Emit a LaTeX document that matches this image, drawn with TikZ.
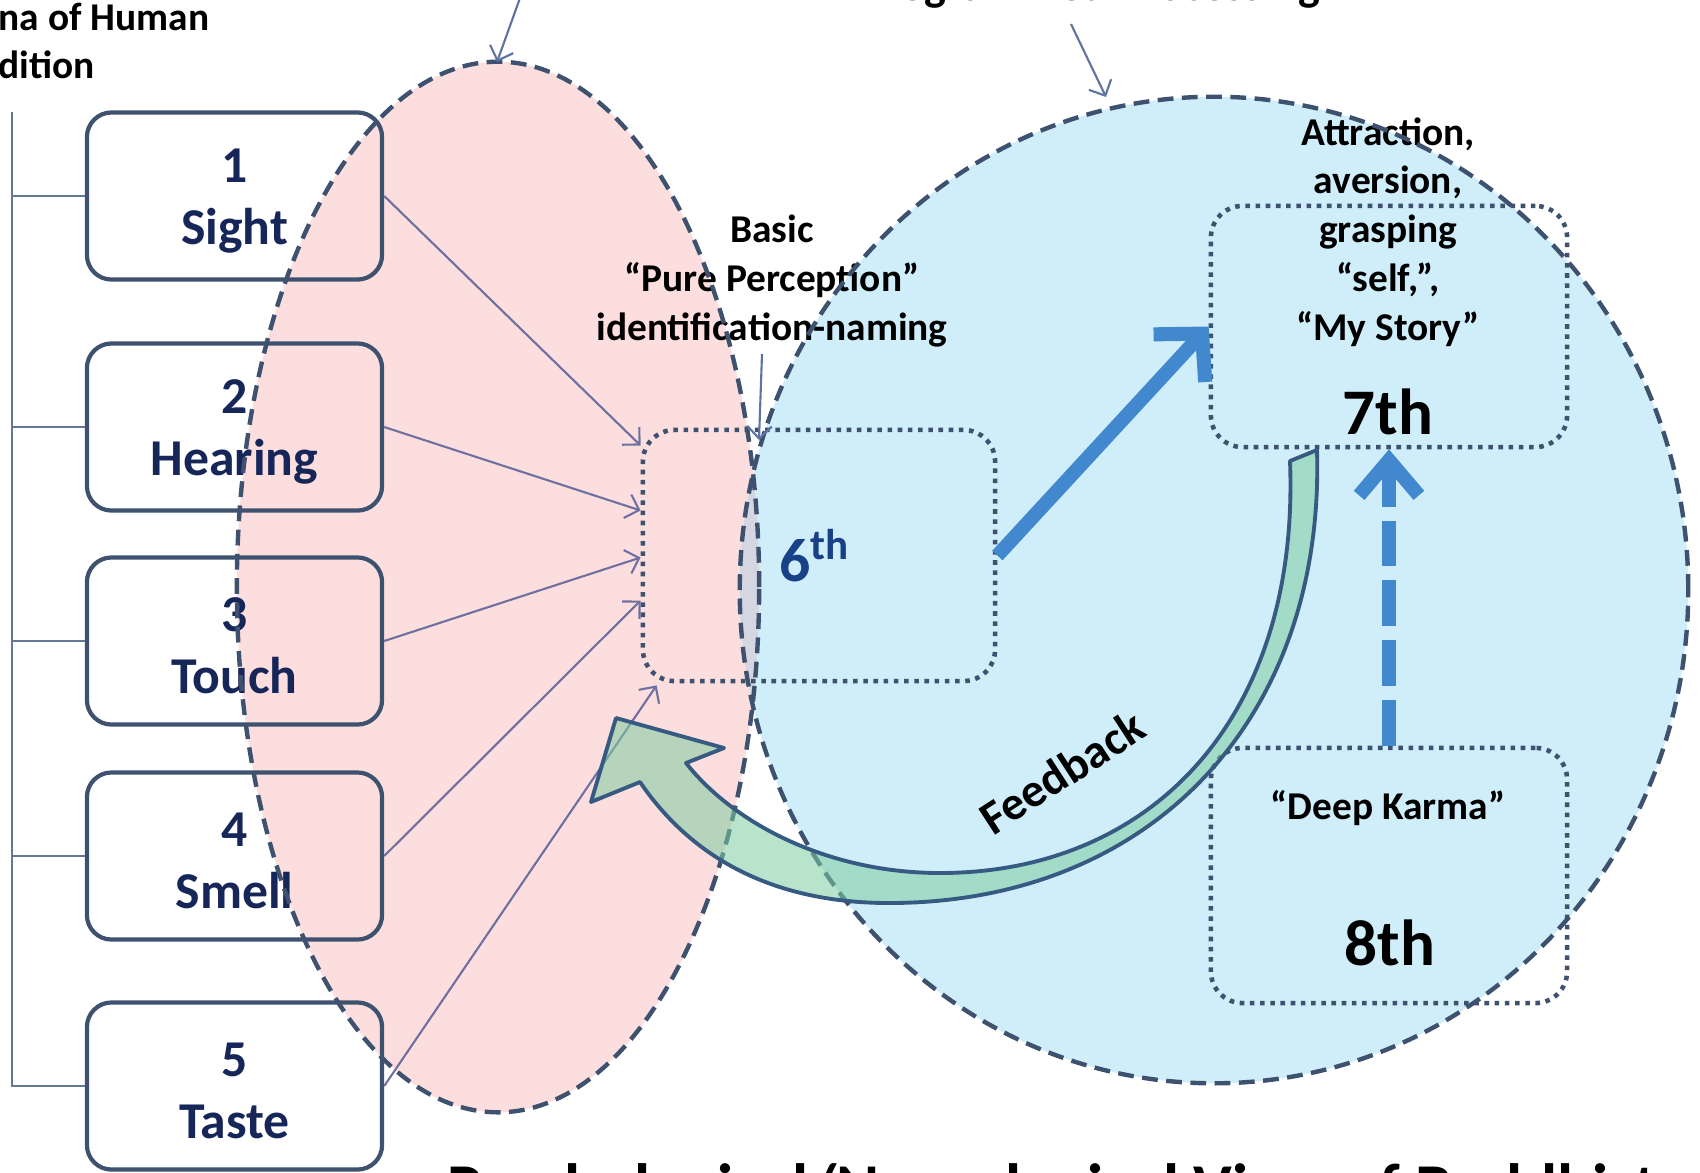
\documentclass[tikz,border=0pt]{standalone}
\usepackage{fontspec}
\setmainfont{Carlito}
\usetikzlibrary{arrows.meta,calc}

\definecolor{pinkfill}{RGB}{252,222,222}
\definecolor{bluefill}{RGB}{208,237,250}
\definecolor{lensfill}{RGB}{212,214,226}
\definecolor{outline}{RGB}{62,82,112}
\definecolor{navytext}{RGB}{22,38,88}
\definecolor{sixblue}{RGB}{25,65,135}
\definecolor{pointer}{RGB}{112,112,160}
\definecolor{toppointer}{RGB}{95,115,160}
\definecolor{bigarrow}{RGB}{66,136,206}
\definecolor{fbgreen}{RGB}{125,205,160}
\definecolor{fbedge}{RGB}{55,90,130}
\definecolor{bracket}{RGB}{100,120,150}

\begin{document}
\begin{tikzpicture}[x=0.01cm,y=-0.01cm,
  sense/.style={draw=outline, line width=1.2pt, rounded corners=7pt,
    minimum width=2.95cm, minimum height=1.67cm, inner sep=0pt},
  sensetext/.style={align=center, text=navytext, inner sep=0pt,
    font=\fontsize{14.7}{17.6}\selectfont\bfseries},
  zone/.style={draw=outline, line width=1.3pt, dash pattern=on 1.3pt off 1.6pt,
    rounded corners=9pt, inner sep=0pt},
  caption/.style={align=center, inner sep=0pt,
    font=\fontsize{11.2}{14}\selectfont\bfseries},
  ordinal/.style={inner sep=0pt, font=\fontsize{18.5}{22}\selectfont\bfseries},
  region/.style={draw=outline, line width=1.25pt, dash pattern=on 4.5pt off 2.4pt},
  thinptr/.style={draw=pointer, line width=0.6pt, -{Straight Barb[length=3.5pt,width=7pt]}},
  topptr/.style={draw=toppointer, line width=0.6pt, -{Straight Barb[length=3.5pt,width=7pt]}},
  bigptr/.style={draw=bigarrow, line width=4pt, -{Straight Barb[length=9.5pt,width=20pt]}},
]
\useasboundingbox (0,0) rectangle (1700,1172);
\clip (0,0) rectangle (1700,1172);

% the two regions and their overlap
\fill[pinkfill] (498,587) ellipse [x radius=2.61cm, y radius=5.25cm];
\fill[bluefill] (1214,590) ellipse [x radius=4.74cm, y radius=4.93cm];
\begin{scope}
  \clip (498,587) ellipse [x radius=2.61cm, y radius=5.25cm];
  \fill[lensfill] (1214,590) ellipse [x radius=4.74cm, y radius=4.93cm];
\end{scope}

% headings cut by the frame
\node[anchor=base west, inner sep=0pt, font=\fontsize{11.2}{14}\selectfont\bfseries] (headA) at (-2,30) {na of Human};
\node[anchor=base west, inner sep=0pt, font=\fontsize{11.2}{14}\selectfont\bfseries] (headB) at (-2,78) {dition};
\node[anchor=base, inner sep=0pt, font=\fontsize{13.1}{16}\selectfont\bfseries] (headC) at (1090,0) {Programmed Processing};
\node[anchor=base west, inner sep=0pt, font=\fontsize{18.6}{22}\selectfont\bfseries] (title) at (447,1209) {Psychological/Neurological View of Buddhist};

% five senses
\node[sense] (s1) at (234.5,196) {};
\node[sense] (s2) at (234.5,427) {};
\node[sense] (s3) at (234.5,641) {};
\node[sense] (s4) at (234.5,856) {};
\node[sense] (s5) at (234.5,1086) {};
\node[sensetext] (t1) at ($(s1)+(0,5)$) {1\\Sight};
\node[sensetext] (t2) at ($(s2)+(0,5)$) {2\\Hearing};
\node[sensetext] (t3) at ($(s3)+(0,5)$) {3\\Touch};
\node[sensetext] (t4) at ($(s4)+(0,5)$) {4\\Smell};
\node[sensetext] (t5) at ($(s5)+(0,5)$) {5\\Taste};

% bracket joining the senses
\coordinate (bt) at (12,112);
\draw[bracket, line width=0.6pt] (bt) |- (s5.west);
\foreach \s in {s1,s2,s3,s4}
  \draw[bracket, line width=0.6pt] (\s.west) -- (\s.west -| bt);

% consciousness zones
\node[zone, minimum width=3.52cm, minimum height=2.51cm] (six) at (819,555.5) {};
\node[zone, minimum width=3.56cm, minimum height=2.41cm] (seven) at (1389,326.5) {};
\node[zone, minimum width=3.56cm, minimum height=2.55cm] (eight) at (1389,875.5) {};

\node[inner sep=0pt, text=sixblue, font=\fontsize{17.5}{20}\selectfont\bfseries] (sixlbl) at (815,556) {6\textsuperscript{th}};
\node[ordinal] (sevenlbl) at (1388,412) {7th};
\node[ordinal] (eightlbl) at (1390,943) {8th};

\node[caption] (basic) at (772,281) {Basic\\“Pure Perception”\\identification-naming};
\node[caption, font=\fontsize{11.2}{13.9}\selectfont\bfseries] (attr) at (1388,232) {Attraction,\\aversion,\\grasping\\“self,”,\\“My Story”};
\node[caption] (karma) at (1388,808) {“Deep Karma”};

% region outlines
\draw[region] (498,587) ellipse [x radius=2.61cm, y radius=5.25cm];
\draw[region] (1214,590) ellipse [x radius=4.74cm, y radius=4.93cm];

% sense inputs into the sixth
\draw[thinptr] (s1.east) -- ($(six.west)+(0,-110)$);
\draw[thinptr] (s2.east) -- ($(six.west)+(0,-45)$);
\draw[thinptr] (s3.east) -- ($(six.west)+(0,2)$);
\draw[thinptr] (s4.east) -- ($(six.west)+(0,45)$);
\draw[thinptr] (s5.east) -- ($(six.south west)+(16,2)$);

% pointers from the headings
\coordinate (fromA) at (520,-2);
\coordinate (pinktop) at (497,62);
\coordinate (fromC) at (1071,24);
\coordinate (bluetop) at (1106,97);
\draw[topptr] (fromA) -- (pinktop);
\draw[topptr] (fromC) -- (bluetop);
\coordinate (vtip) at (759,440);
\draw[topptr] ($(basic.south)+(-10,6)$) -- (vtip);

% processing arrows
\draw[bigptr] (six.east) -- (seven.west);
\draw[bigptr, dash pattern=on 13pt off 4pt, -{Straight Barb[length=10pt,width=17pt]}] (eight.north) -- (seven.south);

% feedback
\draw[fbedge, line width=1.1pt, fill=fbgreen, fill opacity=0.55, line join=round]
  (1290,461) .. controls (1300,720) and (1150,873) .. (940,873)
  .. controls (830,873) and (735,825) .. (686,763)
  -- (724,748) -- (616,718) -- (591,802) -- (640,782)
  .. controls (700,870) and (790,903) .. (889,903)
  .. controls (1150,903) and (1325,720) .. (1317,450)
  -- cycle;
\node[inner sep=0pt, rotate=33, font=\fontsize{13.5}{16}\selectfont\bfseries] (fb) at (1062,772) {Feedback};
\end{tikzpicture}
\end{document}
